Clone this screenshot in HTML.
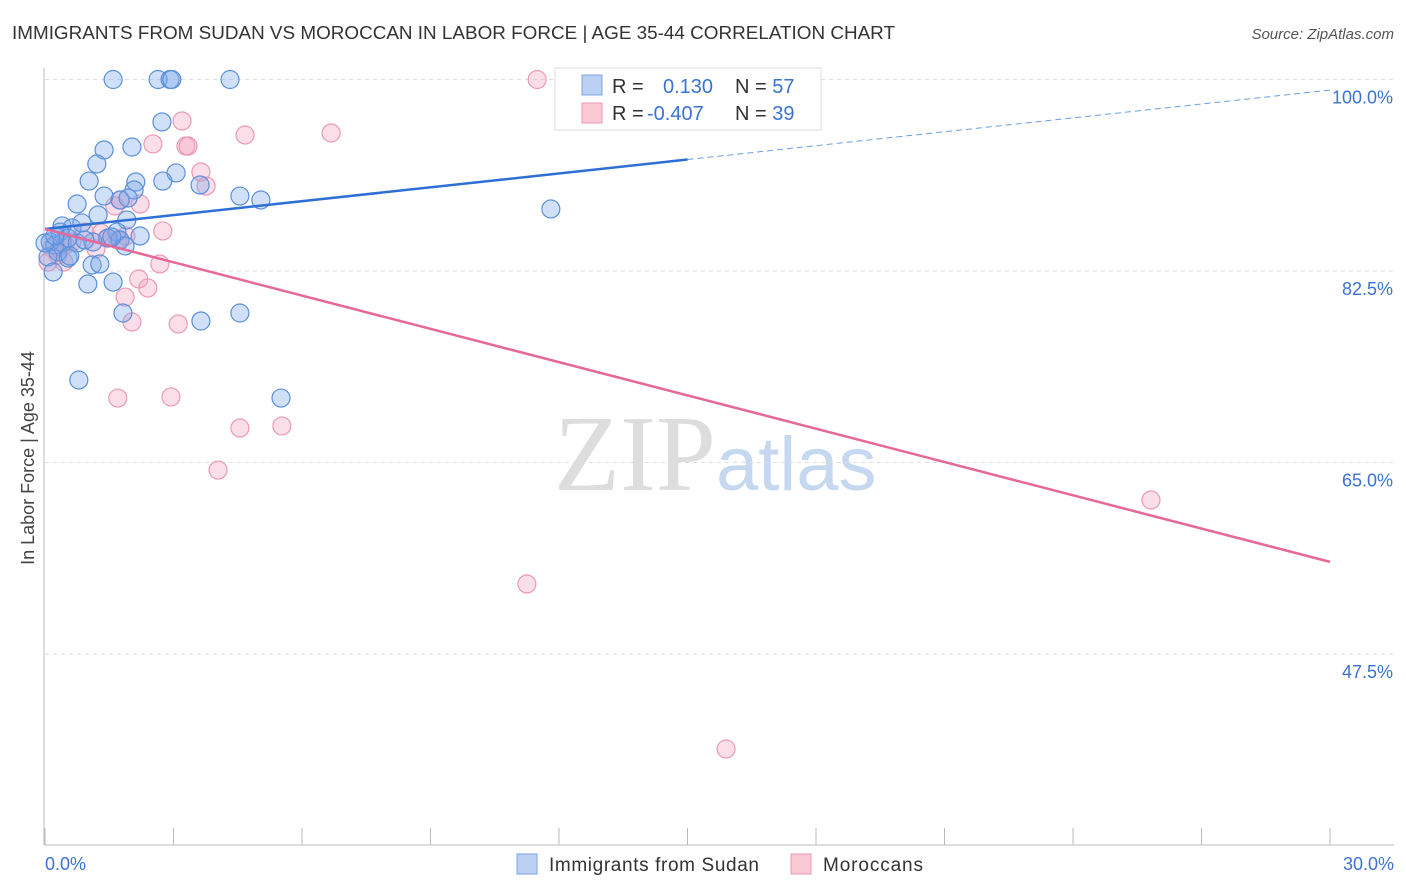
<!DOCTYPE html>
<html><head><meta charset="utf-8"><style>
body{margin:0;background:#fff;font-family:"Liberation Sans",sans-serif}
svg{display:block}
</style></head><body>
<svg id="chart" width="1406" height="892">
<text x="12" y="39" font-size="18" fill="#333" textLength="883" lengthAdjust="spacingAndGlyphs">IMMIGRANTS FROM SUDAN VS MOROCCAN IN LABOR FORCE | AGE 35-44 CORRELATION CHART</text>
<text x="1394" y="39" font-size="15" fill="#555" font-style="italic" text-anchor="end">Source: ZipAtlas.com</text>
<text x="716" y="490" font-size="108" fill="#ddd" text-anchor="end" font-family="Liberation Serif,serif">ZIP</text>
<text x="716" y="490" font-size="76" fill="#c5d8ef">atlas</text>
<text transform="translate(34,458) rotate(-90)" font-size="18" fill="#444" text-anchor="middle">In Labor Force | Age 35-44</text>
<g id="grid"></g><g id="axes"></g><g id="pts"></g><g id="lines"></g>
<g>
<rect x="555" y="68" width="266" height="62" fill="#fff" stroke="#ddd"/>
<rect x="582" y="75" width="20" height="20" fill="#bcd0f3" stroke="#7da4e6"/>
<rect x="582" y="103" width="20" height="20" fill="#fbc8d6" stroke="#ee9ab4"/>
<text x="612" y="93" font-size="20" fill="#333">R = <tspan fill="#3b73d3" x="663">0.130</tspan><tspan fill="#333" x="735">N = </tspan><tspan fill="#3b73d3">57</tspan></text>
<text x="612" y="120" font-size="20" fill="#333">R = <tspan fill="#3b73d3" x="647">-0.407</tspan><tspan fill="#333" x="735">N = </tspan><tspan fill="#3b73d3">39</tspan></text>
</g>
<g>
<rect x="517" y="854" width="20" height="20" fill="#bcd0f3" stroke="#7da4e6"/>
<text x="549" y="871" font-size="19" fill="#333" textLength="210">Immigrants from Sudan</text>
<rect x="791" y="854" width="20" height="20" fill="#fbc8d6" stroke="#ee9ab4"/>
<text x="823" y="871" font-size="19" fill="#333" textLength="100">Moroccans</text>
</g>
</svg>
<script>
const sudanX=[1.59,2.64,2.92,2.96,4.32,2.73,1.38,2.03,1.21,3.06,1.03,2.75,2.12,2.08,3.62,4.55,5.04,1.38,1.75,1.94,0.75,1.24,1.91,11.81,0.40,0.63,0.35,0.86,1.68,2.22,1.47,1.75,1.87,0.12,0.23,0.40,0.54,0.75,1.12,0.30,0.54,0.07,0.58,1.10,1.28,0.19,1.00,1.59,1.82,3.64,4.55,0.79,5.51,0,0.23,0.93,1.56];
const sudanY=[100,100,100,100,100,96.12,93.56,93.83,92.28,91.46,90.72,90.72,90.63,89.90,90.36,89.35,88.99,89.35,88.99,89.17,88.62,87.62,87.16,88.17,86.62,86.43,86.06,86.89,86.06,85.70,85.51,85.33,84.79,85.15,84.88,85.06,85.51,85.06,85.15,84.24,83.69,83.78,83.87,83.05,83.14,82.41,81.31,81.49,78.66,77.93,78.66,72.54,70.89,85.06,85.70,85.33,85.61];
const morX=[11.49,3.20,4.67,6.68,2.52,3.29,3.34,3.64,3.76,1.77,2.22,1.63,2.75,1.45,1.31,0.93,0.63,0.47,0.16,0.30,0.44,0.07,1.19,1.70,1.89,2.68,2.19,2.40,1.87,2.03,3.11,1.70,2.94,4.55,5.53,4.04,25.82,11.25,15.90];
const morY=[100,96.21,94.93,95.11,94.11,93.92,93.92,91.55,90.27,88.99,88.62,88.44,86.16,85.51,85.97,86.06,85.15,84.88,84.60,83.96,83.32,83.32,84.51,85.33,85.70,83.14,81.77,80.95,80.12,77.84,77.66,70.89,70.99,68.15,68.34,64.31,61.57,53.90,38.82];
const trendIntercept=[86.34,86.34];
const trendSlope=[0.423,-1.014];
const yTicks=[100,82.5,65,47.5];
const yTickLabels=["100.0%","82.5%","65.0%","47.5%"];
const xTicks=[0,3,6,9,12,15,18,21,24,27,30];
const xLabels=["0.0%","30.0%"];
const NS="http://www.w3.org/2000/svg";
const sx=v=>45+v/30*1285;
const sy=v=>79.5+(100-v)/17.5*191.5;
function mk(tag,attrs,parent){const e=document.createElementNS(NS,tag);for(const k in attrs)e.setAttribute(k,attrs[k]);document.getElementById(parent).appendChild(e);return e;}
yTicks.forEach((t,i)=>{
 const g=mk('line',{x1:45,x2:1394,y1:sy(t),y2:sy(t),stroke:'#ddd','stroke-dasharray':'4,4'},'grid');
 
 
 const l=mk('text',{x:1393,y:sy(t)+24,'font-size':18,fill:'#3b73d3','text-anchor':'end'},'grid');
 l.textContent=yTickLabels[i];
 
 
});
let a=mk('line',{x1:44,x2:44,y1:68,y2:845,stroke:'#bbb'},'axes');


a=mk('line',{x1:44,x2:1394,y1:845,y2:845,stroke:'#bbb'},'axes');


xTicks.forEach(t=>{const e=mk('line',{x1:sx(t),x2:sx(t),y1:828,y2:845,stroke:'#bbb'},'axes');
 
 });
[[0,'start',45],[30,'end',1394]].forEach((d,i)=>{const e=mk('text',{x:d[2],y:870,'font-size':18,fill:'#3b73d3','text-anchor':d[1]},'axes');e.textContent=xLabels[i];
 
 });
morX.forEach((x,i)=>{const c=mk('circle',{cx:sx(x),cy:sy(morY[i]),r:9,fill:'rgba(244,160,188,0.35)',stroke:'#ec9ab4','stroke-width':1.2},'pts');
 
 });
sudanX.forEach((x,i)=>{const c=mk('circle',{cx:sx(x),cy:sy(sudanY[i]),r:9,fill:'rgba(120,165,235,0.35)',stroke:'#5b8fdc','stroke-width':1.2},'pts');
 
 });
const f=(i,x)=>trendIntercept[i]+trendSlope[i]*x;
let t=mk('line',{x1:sx(0),y1:sy(f(0,0)),x2:sx(15),y2:sy(f(0,15)),stroke:'#2e6fd6','stroke-width':2.5},'lines');


t=mk('line',{x1:sx(15),y1:sy(f(0,15)),x2:sx(30),y2:sy(f(0,30)),stroke:'#6a9ee0','stroke-width':1,'stroke-dasharray':'6,4'},'lines');


t=mk('line',{x1:sx(0),y1:sy(f(1,0)),x2:sx(30),y2:sy(f(1,30)),stroke:'#e5689a','stroke-width':2.5},'lines');


</script>
</body></html>
